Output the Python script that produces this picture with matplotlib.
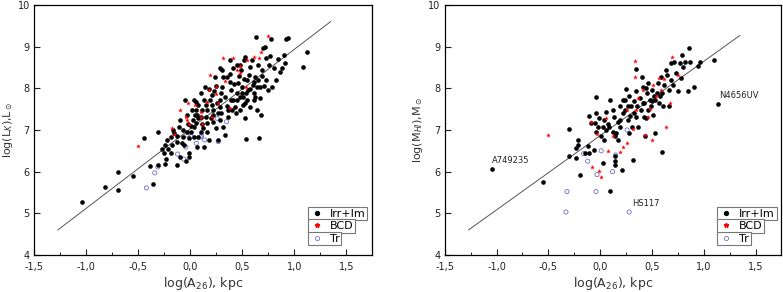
import matplotlib.pyplot as plt
from matplotlib.lines import Line2D
from matplotlib.ticker import FuncFormatter, MultipleLocator

# --- left panel: log(L_K) vs log(A26) ---
lk_irr_x = [-1.04, -0.82, -0.69, -0.69, -0.55, -0.44, -0.39, -0.36, -0.31, -0.31, -0.27, -0.25, -0.24,
            -0.23, -0.24, -0.22, -0.13, -0.13, -0.15, -0.05, -0.03, -0.02, -0.03, -0.07, -0.06, -0.01,
            -0.01, -0.04, 0.01, 0.03, 0.05, 0.06, 0.08, 0.06, 0.11, 0.12, 0.10, 0.08, 0.07, 0.13, 0.08,
            0.15, 0.16, 0.13, 0.19, 0.21, 0.18, 0.22, 0.20, 0.22, 0.25, 0.27, 0.29, 0.29, 0.30, 0.31,
            0.31, 0.32, 0.34, 0.35, 0.36, 0.32, 0.34, 0.27, 0.38, 0.38, 0.39, 0.41, 0.43, 0.45, 0.46,
            0.47, 0.48, 0.49, 0.50, 0.51, 0.53, 0.53, 0.54, 0.55, 0.56, 0.57, 0.58, 0.59, 0.60, 0.61,
            0.61, 0.62, 0.63, 0.64, 0.65, 0.66, 0.67, 0.68, 0.69, 0.70, 0.72, 0.73, 0.73, 0.75, 0.76,
            0.77, 0.78, 0.79, 0.81, 0.83, 0.84, 0.86, 0.88, 0.90, 0.91, 0.92, 0.94, 1.08, 1.12,
            -0.17, -0.16, -0.11, -0.10, -0.08, -0.10, -0.13, -0.18, -0.21, -0.18,
            0.02, 0.04, 0.10, 0.14, 0.16, 0.18, 0.10, -0.01, -0.07, 0.16, 0.23, 0.25, 0.26, 0.30, 0.39,
            0.40, 0.42, 0.45, 0.48, 0.51, 0.52, 0.54, 0.55, 0.58, 0.58, 0.61, 0.62, 0.64, 0.65, 0.67,
            0.69, 0.71, 0.52, 0.53, 0.29, 0.35, 0.24, 0.38, 0.41, 0.45, 0.21, 0.15, 0.11, 0.07, 0.04,
            0.06, 0.01, 0.04, 0.22, 0.29, 0.36, 0.44, 0.48, 0.50]
lk_irr_y = [5.26, 5.63, 5.98, 5.57, 5.90, 6.80, 6.13, 5.70, 6.94, 6.17, 6.54, 6.45, 6.64,
            6.30, 6.18, 6.77, 6.86, 6.72, 6.92, 7.72, 7.36, 7.15, 6.94, 6.84, 6.64, 6.44,
            6.35, 6.25, 7.10, 7.24, 7.36, 7.48, 7.60, 7.68, 7.15, 7.04, 6.96, 6.84, 6.60, 6.60, 7.28,
            7.32, 7.48, 7.72, 7.72, 7.84, 7.98, 7.48, 7.28, 7.18, 7.04, 7.40, 7.56, 7.72, 7.88, 8.04,
            8.44, 8.28, 7.80, 7.58, 7.32, 7.08, 6.88, 6.76, 8.16, 8.35, 7.96, 7.72, 7.56, 7.88, 8.12,
            8.30, 8.56, 8.44, 8.03, 7.80, 7.64, 7.28, 6.78, 8.20, 7.96, 8.32, 8.52, 8.68, 8.08, 7.88,
            7.72, 8.28, 9.24, 7.48, 8.56, 6.80, 8.04, 7.36, 8.44, 8.96, 9.00, 8.72, 8.20, 7.96, 8.56,
            8.78, 9.18, 8.04, 8.48, 8.20, 8.70, 8.40, 8.48, 8.80, 8.60, 9.18, 9.20, 8.52, 8.88,
            6.64, 7.00, 7.08, 7.24, 6.68, 6.36, 6.16, 6.45, 6.54, 6.83,
            7.48, 7.72, 7.88, 8.04, 6.96, 6.76, 7.30, 6.80, 7.00, 7.16, 7.94, 8.05, 7.64, 7.40, 7.72,
            7.48, 8.10, 7.72, 7.80, 7.60, 8.22, 7.88, 7.72, 7.98, 7.55, 8.14, 7.80, 8.03, 8.20, 7.76,
            8.30, 8.06, 8.68, 8.76, 8.48, 8.28, 8.28, 8.68, 8.48, 8.56, 7.60, 7.60, 7.48, 7.36, 7.08,
            7.16, 6.96, 6.84, 7.36, 7.24, 7.48, 7.40, 7.48, 7.88]
lk_bcd_x = [-0.50, -0.17, -0.15, -0.10, -0.04, -0.03, -0.01, 0.05, 0.10, 0.10, 0.11, 0.16, 0.19, 0.18,
            0.21, 0.25, 0.27, 0.32, 0.41, 0.45, 0.48, 0.34, 0.38, 0.48, 0.55, 0.61, 0.66, 0.75, 0.68,
            0.54, -0.02, 0.25]
lk_bcd_y = [6.62, 7.04, 6.91, 7.48, 7.31, 7.23, 7.15, 7.60, 7.42, 7.32, 7.15, 7.68, 8.33, 7.96,
            7.32, 7.87, 7.64, 8.72, 8.72, 8.44, 8.54, 8.18, 7.52, 8.36, 8.68, 8.76, 8.72, 9.26, 8.86,
            8.03, 7.64, 8.04]
lk_tr_x = [-0.42, -0.34, -0.31, -0.12, -0.06, -0.04, 0.01, 0.06, 0.10, 0.14, 0.11, 0.27, 0.26, 0.35,
           0.38, -0.03]
lk_tr_y = [5.61, 5.97, 6.11, 6.42, 6.30, 6.59, 6.84, 6.68, 6.83, 6.76, 6.86, 6.72, 7.28, 7.20,
           7.48, 6.88]
lk_fit_x = [-1.27, 1.35]
lk_fit_y = [4.6, 9.6]

# --- right panel: log(M_HI) vs log(A26) ---
mhi_irr_x = [-1.04, -0.55, -0.30, -0.30, -0.23, -0.21, -0.21, -0.19, -0.23, -0.15, -0.12, -0.11, -0.06,
             -0.04, -0.05, -0.04, -0.02, 0.03, 0.01, 0.04, 0.06, 0.08, 0.10, 0.10, 0.12, 0.13, 0.14,
             0.14, 0.14, 0.15, 0.17, 0.19, 0.19, 0.21, 0.22, 0.24, 0.25, 0.27, 0.28, 0.28, 0.30, 0.32,
             0.33, 0.35, 0.35, 0.35, 0.37, 0.38, 0.39, 0.40, 0.41, 0.42, 0.43, 0.44, 0.45, 0.46, 0.48,
             0.49, 0.50, 0.51, 0.53, 0.53, 0.55, 0.56, 0.57, 0.59, 0.60, 0.60, 0.62, 0.64, 0.66, 0.66,
             0.68, 0.68, 0.70, 0.71, 0.73, 0.75, 0.77, 0.78, 0.79, 0.80, 0.82, 0.85, 0.86, 0.87, 0.91,
             0.94, 0.96, 1.10, 1.14,
             -0.01, 0.03, 0.06, 0.09, 0.12, 0.14, 0.17, 0.19, 0.22, 0.24, 0.27, 0.29, 0.31, 0.33, 0.36,
             0.41, 0.42, 0.44, 0.46, 0.50, 0.52, 0.58, 0.61, 0.65, -0.04, 0.04, -0.09, -0.11]
mhi_irr_y = [6.06, 5.74, 7.03, 6.37, 6.57, 6.77, 6.65, 5.93, 6.33, 6.45, 6.61, 6.45, 6.51,
             7.79, 7.17, 6.96, 7.08, 6.21, 6.85, 7.25, 7.44, 7.15, 5.53, 7.73, 7.49, 7.32, 6.37,
             6.26, 6.16, 6.92, 6.77, 7.07, 7.57, 6.05, 7.40, 7.73, 7.98, 7.25, 6.92, 7.81, 7.57, 6.27,
             7.69, 7.32, 8.46, 7.93, 7.08, 7.77, 7.49, 8.28, 8.04, 7.65, 6.85, 7.29, 7.89, 8.12, 7.73,
             7.57, 7.97, 7.37, 6.93, 7.73, 7.89, 8.12, 7.65, 8.28, 7.89, 6.47, 8.08, 8.44, 7.97, 7.57,
             8.20, 8.60, 8.08, 8.64, 8.36, 7.93, 8.60, 8.24, 8.80, 8.52, 8.64, 7.93, 8.96, 8.64, 8.04,
             8.54, 8.64, 8.67, 7.62,
             7.28, 7.08, 7.00, 7.08, 6.96, 6.85, 7.20, 7.24, 7.73, 7.49, 7.57, 7.33, 7.08, 7.40, 7.57,
             7.65, 7.32, 8.00, 7.49, 7.69, 7.81, 7.81, 7.57, 8.33, 7.40, 6.77, 7.16, 7.33]
mhi_bcd_x = [-0.50, -0.09, -0.08, -0.03, -0.01, 0.01, 0.08, 0.06, 0.12, 0.19, 0.22, 0.26, 0.26, 0.32,
             0.34, 0.34, 0.35, 0.37, 0.41, 0.43, 0.46, 0.50, 0.48, 0.51, 0.54, 0.57, 0.59, 0.64, 0.67,
             0.69, 0.75, 0.62]
mhi_bcd_y = [6.87, 7.20, 6.12, 6.91, 6.02, 5.87, 6.49, 7.28, 6.85, 6.47, 6.59, 6.69, 7.48, 7.02,
             8.66, 8.26, 7.49, 7.77, 7.97, 6.87, 7.31, 6.77, 7.50, 8.09, 7.81, 8.24, 7.97, 7.06, 7.65,
             8.75, 8.32, 8.22]
mhi_tr_x = [-0.33, -0.32, -0.16, -0.12, -0.04, -0.03, 0.01, 0.12, 0.15, 0.26, 0.28]
mhi_tr_y = [5.03, 5.52, 6.43, 6.25, 5.52, 5.93, 6.50, 6.00, 6.40, 7.00, 5.03]
mhi_fit_x = [-1.27, 1.35]
mhi_fit_y = [4.6, 9.27]
mhi_names = ["A749235", "N4656UV", "HS117"]
mhi_name_x = [-1.04, 1.15, 0.31]
mhi_name_y = [6.15, 7.72, 5.12]

plt.rcParams['font.family'] = 'DejaVu Sans'
fig = plt.figure(figsize=(7.83, 2.92), dpi=100)
ax1 = fig.add_axes([0.0434, 0.127, 0.432, 0.856])
ax2 = fig.add_axes([0.568, 0.127, 0.430, 0.856])

comma = FuncFormatter(lambda v, p: f"{v:.1f}".replace(".", ","))


def draw(ax, ix, iy, bx, by, tx, ty, fx, fy, ylabel, ylab_x):
    ax.plot(fx, fy, color='#555555', lw=0.7, zorder=1)
    ax.scatter(ix, iy, s=11, color='black', lw=0, zorder=3)
    ax.scatter(bx, by, s=13, marker='*', color='red', lw=0, zorder=4)
    ax.scatter(tx, ty, s=9, facecolors='none', edgecolors='#6f6fc8', lw=0.6, zorder=2)
    ax.set_xlim(-1.5, 1.75)
    ax.set_ylim(4, 10)
    ax.xaxis.set_major_locator(MultipleLocator(0.5))
    ax.xaxis.set_minor_locator(MultipleLocator(0.25))
    ax.xaxis.set_major_formatter(comma)
    ax.yaxis.set_major_locator(MultipleLocator(1))
    ax.tick_params(direction='in', labelsize=7, length=4, width=0.8, colors='#222222')
    ax.tick_params(axis='x', pad=5)
    ax.tick_params(axis='y', pad=3)
    ax.tick_params(which='minor', direction='in', length=2, width=0.6)
    for s in ax.spines.values():
        s.set_linewidth(0.9)
    ax.set_xlabel(r"log(A$_{26}$), kpc", fontsize=9, color='#333333', labelpad=2)
    ax.set_ylabel(ylabel, fontsize=8, color='#333333')
    ax.yaxis.set_label_coords(ylab_x, 0.5)

    # three separate boxed legend entries like the original
    entries = [
        (Line2D([], [], marker='o', ls='', color='black', ms=2.8), "Irr+Im", 0.192),
        (Line2D([], [], marker='*', ls='', color='red', ms=3.5), "BCD", 0.142),
        (Line2D([], [], marker='o', ls='', mfc='none', mec='#6f6fc8', ms=3, mew=0.6), "Tr", 0.092),
    ]
    for i, (h, lab, top) in enumerate(entries):
        leg = ax.legend([h], [lab], loc='upper left', bbox_to_anchor=(0.81, top), fontsize=8,
                        frameon=True, fancybox=False, edgecolor='#777777', framealpha=1,
                        borderpad=0.15, handlelength=1.3, handletextpad=0.5, borderaxespad=0)
        leg.get_frame().set_linewidth(0.8)
        if i < 2:
            ax.add_artist(leg)


draw(ax1, lk_irr_x, lk_irr_y, lk_bcd_x, lk_bcd_y, lk_tr_x, lk_tr_y, lk_fit_x, lk_fit_y,
     r"log(L$_K$),L$_\odot$", -0.056)
draw(ax2, mhi_irr_x, mhi_irr_y, mhi_bcd_x, mhi_bcd_y, mhi_tr_x, mhi_tr_y, mhi_fit_x, mhi_fit_y,
     r"log(M$_{HI}$),M$_\odot$", -0.059)

for name, x, y in zip(mhi_names, mhi_name_x, mhi_name_y):
    ax2.text(x, y, name, fontsize=6, color='#222222', va='bottom', ha='left')

fig.savefig("out.png", dpi=100)
